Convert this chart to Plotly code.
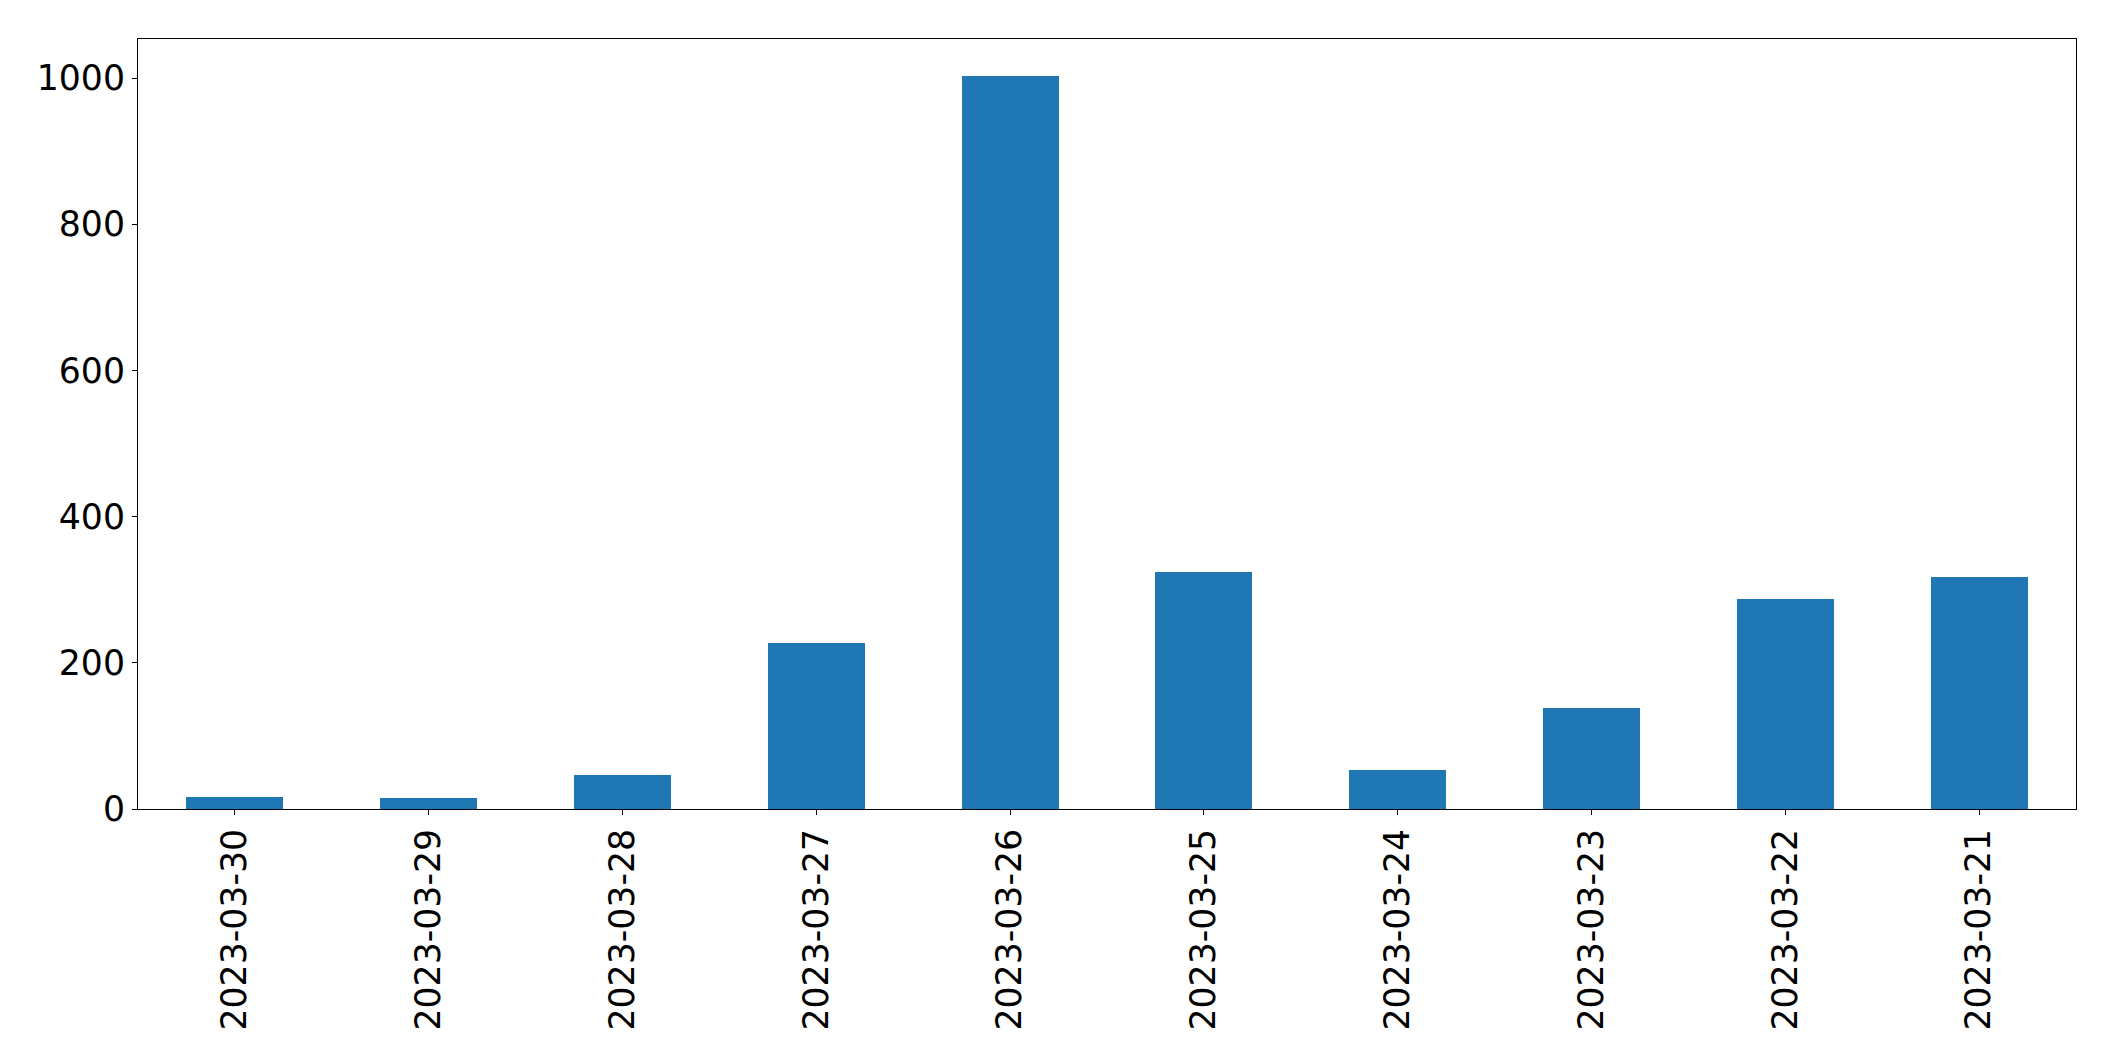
import plotly.graph_objects as go

dates = ["2023-03-30", "2023-03-29", "2023-03-28", "2023-03-27", "2023-03-26",
         "2023-03-25", "2023-03-24", "2023-03-23", "2023-03-22", "2023-03-21"]
counts = [16, 15, 46, 227, 1003, 324, 53, 138, 287, 317]
y_ticks = [0, 200, 400, 600, 800, 1000]

fig = go.Figure()
fig.add_trace(go.Bar(x=dates, y=counts, width=0.5, marker=dict(color="#1f77b4", line=dict(width=0))))

axis_common = dict(
    showline=True, linecolor="black", linewidth=1.1, mirror=True,
    ticks="outside", ticklen=5, tickwidth=1.1, tickcolor="black",
    showgrid=False, zeroline=False,
    tickfont=dict(family="DejaVu Sans", size=34.7, color="black"),
)

fig.update_layout(
    width=2115, height=1061,
    margin=dict(l=138, r=39, t=39, b=252),
    plot_bgcolor="white", paper_bgcolor="white",
    showlegend=False,
    bargap=0,
    xaxis=dict(type="category", range=[-0.5, 9.5], tickangle=-90, **axis_common),
    yaxis=dict(range=[0, 1053.4], tickvals=y_ticks, ticktext=[str(v) for v in y_ticks], **axis_common),
)

fig.write_html("out.html", config={"displayModeBar": False})

with open("out.html", "r", encoding="utf-8") as f:
    html = f.read()
html = html.replace("<body>", "<body style=\"margin:0;padding:0;\">", 1)
with open("out.html", "w", encoding="utf-8") as f:
    f.write(html)
